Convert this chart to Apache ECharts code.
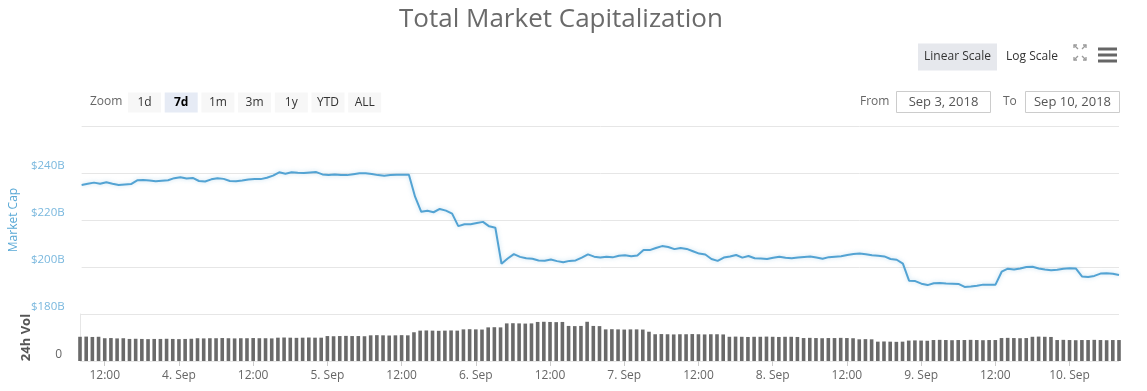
<!DOCTYPE html>
<html>
<head>
<meta charset="utf-8">
<script src="https://cdn.jsdelivr.net/npm/echarts@6/dist/echarts.min.js"></script>
<style>
  html, body { margin: 0; padding: 0; background: #fff; }
  #chart { width: 1147px; height: 391px; }
</style>
</head>
<body>
<div id="chart"></div>
<script>
// ---- Data (hourly, starting Sep 3, 2018 08:00) ----
const startTime = Date.UTC(2018, 8, 3, 8, 0);   // first sample
const stepMs = 3600 * 1000;                      // one hour

// Total market cap, $B
const marketCap = [
  234.9,235.4,235.9,235.4,236.1,235.4,234.9,235.1,235.3,236.9,
  237.0,236.8,236.5,236.7,236.9,237.8,238.2,237.7,237.9,236.6,
  236.4,237.3,237.8,237.5,236.6,236.5,236.8,237.2,237.4,237.4,
  238.0,238.9,240.3,239.7,240.3,240.1,240.0,240.2,240.4,239.4,
  239.1,239.4,239.1,239.1,239.5,239.9,239.9,239.6,239.1,238.8,
  239.1,239.3,239.3,239.3,229.9,223.5,223.9,223.3,224.7,224.0,
  222.7,217.4,218.2,218.2,218.7,219.2,217.3,216.7,201.4,203.6,
  205.5,204.3,203.7,203.5,202.8,202.7,203.2,202.5,202.0,202.6,
  202.8,204.0,205.4,204.4,204.0,204.4,204.1,204.8,205.0,204.6,
  204.9,207.2,207.2,208.1,208.9,208.5,207.6,208.1,207.7,206.7,
  205.7,205.3,203.4,202.6,204.0,204.5,205.1,204.0,204.7,203.7,
  203.6,203.4,203.9,204.4,203.9,203.7,204.0,204.3,204.5,204.0,
  203.5,204.2,204.4,204.6,205.1,205.5,205.7,205.4,205.0,204.8,
  204.5,203.4,203.1,201.4,194.2,194.0,192.9,192.3,193.1,193.2,
  193.0,192.9,192.8,191.5,191.7,192.0,192.5,192.5,192.5,198.0,
  199.3,198.9,199.4,200.0,200.1,199.4,198.9,198.6,198.8,199.3,
  199.5,199.4,196.0,195.7,196.2,197.2,197.3,197.1,196.6
];

// 24h volume, $B
const volume24h = [
  13.4,13.5,13.3,13.4,12.6,12.7,12.5,12.6,
  12.2,12.3,12.2,12.1,12.2,12.2,12.3,12.2,12.1,12.2,12.3,
  12.6,12.5,12.6,12.6,12.7,12.6,12.5,12.6,12.6,12.7,12.6,12.6,12.5,
  12.9,13.0,12.9,12.8,12.9,13.0,12.9,12.9,
  13.8,13.7,13.8,13.9,13.8,13.8,13.7,
  14.2,14.3,14.2,14.1,14.2,14.3,14.2,
  15.9,
  16.8,16.9,16.8,16.7,16.8,16.9,16.8,
  17.5,17.6,17.5,17.4,
  18.6,18.7,18.6,
  20.8,20.9,20.8,20.7,20.8,
  21.6,21.7,21.6,21.5,21.6,
  19.4,19.3,19.4,
  21.7,
  19.4,19.3,
  17.5,17.6,17.5,17.4,17.5,17.5,17.4,
  16.2,
  14.8,14.9,14.8,14.7,14.8,14.8,14.9,14.8,14.7,14.8,14.8,14.7,
  13.4,13.5,13.4,13.3,13.4,13.4,13.5,13.4,13.3,13.4,13.4,13.3,
  12.7,12.8,12.7,12.6,12.7,12.7,12.8,12.7,12.6,
  12.0,12.1,12.0,
  10.7,10.8,10.7,10.6,10.7,
  11.3,11.4,11.3,11.2,
  11.6,11.7,11.6,11.5,11.6,11.6,11.7,11.6,11.5,11.6,11.6,
  12.7,12.8,12.7,12.6,12.7,
  13.4,13.5,13.4,13.3,
  11.6,11.7,11.6,11.5,11.6,11.6,11.7,11.6,11.5,11.6,11.6
];

// Category timestamps (hourly)
const times = marketCap.map((_, i) => startTime + i * stepMs);

const monthNames = ['Jan','Feb','Mar','Apr','May','Jun','Jul','Aug','Sep','Oct','Nov','Dec'];
const zoomButtons = ['1d','7d','1m','3m','1y','YTD','ALL'];
const selectedZoom = '7d';
const capTicks = [180, 200, 220, 240, 260];

// ---- Helpers ----
function isTickHour(i) {
  const h = new Date(times[i]).getUTCHours();
  return h === 0 || h === 12;
}
function tickLabel(i) {
  const d = new Date(times[i]);
  if (d.getUTCHours() === 12) return '12:00';
  return d.getUTCDate() + '. ' + monthNames[d.getUTCMonth()];
}

const FONT = '"Open Sans", "DejaVu Sans", sans-serif';
const chart = echarts.init(document.getElementById('chart'), null, { renderer: 'canvas' });

// ---- Graphic UI elements (buttons etc.) ----
const graphics = [];
graphics.push({
  type: 'text',
  style: { x: 561, y: 20, text: 'Total Market Capitalization', textAlign: 'center',
           textVerticalAlign: 'middle', font: '26px ' + FONT, fill: '#6a6a6a' }
});
graphics.push({
  type: 'text',
  style: { x: 90, y: 102, text: 'Zoom', textAlign: 'left', textVerticalAlign: 'middle',
           font: '12px ' + FONT, fill: '#666666' }
});
zoomButtons.forEach((b, k) => {
  const x = 128 + k * 36.7;
  const sel = b === selectedZoom;
  graphics.push({
    type: 'rect',
    shape: { x: x, y: 92.5, width: 33, height: 20 },
    style: { fill: sel ? '#e6ebf5' : '#f7f7f7' }
  });
  graphics.push({
    type: 'text',
    style: { x: x + 16.5, y: 102.5, text: b, textAlign: 'center', textVerticalAlign: 'middle',
             font: (sel ? 'bold ' : '') + '12px ' + FONT, fill: sel ? '#000000' : '#333333' }
  });
});
// Scale buttons
graphics.push({ type: 'rect', shape: { x: 918, y: 43.5, width: 79, height: 27 },
  style: { fill: '#e6e8ed' } });
graphics.push({ type: 'text', style: { x: 957.5, y: 57, text: 'Linear Scale', textAlign: 'center',
  textVerticalAlign: 'middle', font: '12px ' + FONT, fill: '#333333' } });
graphics.push({ type: 'text', style: { x: 1032, y: 57, text: 'Log Scale', textAlign: 'center',
  textVerticalAlign: 'middle', font: '12px ' + FONT, fill: '#333333' } });
// Fullscreen icon (4 corner arrows)
const fsStyle = { stroke: '#9a9a9a', lineWidth: 1.3, fill: null };
graphics.push({ type: 'polyline', shape: { points: [[1074, 48], [1074, 45], [1077, 45]] }, style: fsStyle });
graphics.push({ type: 'line', shape: { x1: 1074, y1: 45, x2: 1078, y2: 49 }, style: fsStyle });
graphics.push({ type: 'polyline', shape: { points: [[1083, 45], [1086, 45], [1086, 48]] }, style: fsStyle });
graphics.push({ type: 'line', shape: { x1: 1086, y1: 45, x2: 1082, y2: 49 }, style: fsStyle });
graphics.push({ type: 'polyline', shape: { points: [[1074, 57], [1074, 60], [1077, 60]] }, style: fsStyle });
graphics.push({ type: 'line', shape: { x1: 1074, y1: 60, x2: 1078, y2: 56 }, style: fsStyle });
graphics.push({ type: 'polyline', shape: { points: [[1083, 60], [1086, 60], [1086, 57]] }, style: fsStyle });
graphics.push({ type: 'line', shape: { x1: 1086, y1: 60, x2: 1082, y2: 56 }, style: fsStyle });
// Hamburger
[49, 55, 61].forEach(y => {
  graphics.push({ type: 'rect', shape: { x: 1098, y: y - 1.5, width: 19, height: 3 },
    style: { fill: '#666666' } });
});
// From / To inputs
graphics.push({ type: 'text', style: { x: 860, y: 101.5, text: 'From', textAlign: 'left',
  textVerticalAlign: 'middle', font: '12px ' + FONT, fill: '#666666' } });
graphics.push({ type: 'rect', shape: { x: 896.5, y: 91.5, width: 94, height: 21 },
  style: { fill: '#ffffff', stroke: '#cccccc', lineWidth: 1 } });
graphics.push({ type: 'text', style: { x: 943.5, y: 102, text: 'Sep 3, 2018', textAlign: 'center',
  textVerticalAlign: 'middle', font: '13px ' + FONT, fill: '#555555' } });
graphics.push({ type: 'text', style: { x: 1003, y: 101.5, text: 'To', textAlign: 'left',
  textVerticalAlign: 'middle', font: '12px ' + FONT, fill: '#666666' } });
graphics.push({ type: 'rect', shape: { x: 1025.5, y: 91.5, width: 94, height: 21 },
  style: { fill: '#ffffff', stroke: '#cccccc', lineWidth: 1 } });
graphics.push({ type: 'text', style: { x: 1072.5, y: 102, text: 'Sep 10, 2018', textAlign: 'center',
  textVerticalAlign: 'middle', font: '13px ' + FONT, fill: '#555555' } });

const gridLeft = 80;
const gridRight = 28;

const option = {
  animation: false,
  backgroundColor: '#ffffff',
  textStyle: { fontFamily: FONT },
  graphic: graphics,
  grid: [
    { left: gridLeft, right: gridRight, top: 126, height: 188 },
    { left: gridLeft, right: gridRight, top: 314, height: 47 }
  ],
  xAxis: [
    {
      type: 'category', gridIndex: 0, data: times, boundaryGap: false,
      axisLine: { show: false }, axisTick: { show: false }, axisLabel: { show: false },
      splitLine: { show: false }
    },
    {
      type: 'category', gridIndex: 1, data: times, boundaryGap: false,
      axisLine: { show: false },
      axisTick: { show: true, length: 5, interval: (i) => isTickHour(i),
                  lineStyle: { color: '#cccccc' } },
      axisLabel: {
        interval: (i) => isTickHour(i),
        formatter: (v, i) => tickLabel(i),
        color: '#666666', fontSize: 12, margin: 9, fontFamily: FONT
      },
      splitLine: { show: false }
    }
  ],
  yAxis: [
    {
      type: 'value', gridIndex: 0, min: capTicks[0], max: capTicks[capTicks.length - 1], interval: 20,
      name: 'Market Cap', nameLocation: 'middle', nameRotate: 90, nameGap: 61,
      nameTextStyle: { color: '#5aa9d6', fontSize: 12, fontFamily: FONT },
      axisLine: { show: false }, axisTick: { show: false },
      axisLabel: {
        formatter: (v) => '$' + v + 'B', showMaxLabel: false,
        color: '#7ab8de', fontSize: 11.5, verticalAlign: 'bottom', margin: 17,
        padding: [0, 0, 1, 0], fontFamily: FONT
      },
      splitLine: { lineStyle: { color: '#e6e6e6', width: 1 } }
    },
    {
      type: 'value', gridIndex: 1, min: 0, max: 26, interval: 26,
      name: '24h Vol', nameLocation: 'middle', nameRotate: 90, nameGap: 47,
      nameTextStyle: { color: '#555555', fontSize: 13, fontWeight: 'bold', fontFamily: FONT },
      axisLine: { show: true, lineStyle: { color: '#e6e6e6' } }, axisTick: { show: false },
      axisLabel: {
        showMaxLabel: false, color: '#666666', fontSize: 12, verticalAlign: 'bottom',
        margin: 18, fontFamily: FONT
      },
      splitLine: { show: true, lineStyle: { color: '#e6e6e6' } }
    }
  ],
  series: [
    {
      name: 'Market Cap', type: 'line', xAxisIndex: 0, yAxisIndex: 0,
      data: marketCap, showSymbol: false, smooth: false,
      lineStyle: { color: '#53a3d3', width: 2, shadowColor: 'rgba(83,163,211,0.35)', shadowBlur: 4 },
      itemStyle: { color: '#53a3d3' }
    },
    {
      name: '24h Vol', type: 'bar', xAxisIndex: 1, yAxisIndex: 1,
      data: volume24h, barWidth: 3.6,
      itemStyle: { color: '#6a6a6a' }
    }
  ]
};
chart.setOption(option);
</script>
</body>
</html>
